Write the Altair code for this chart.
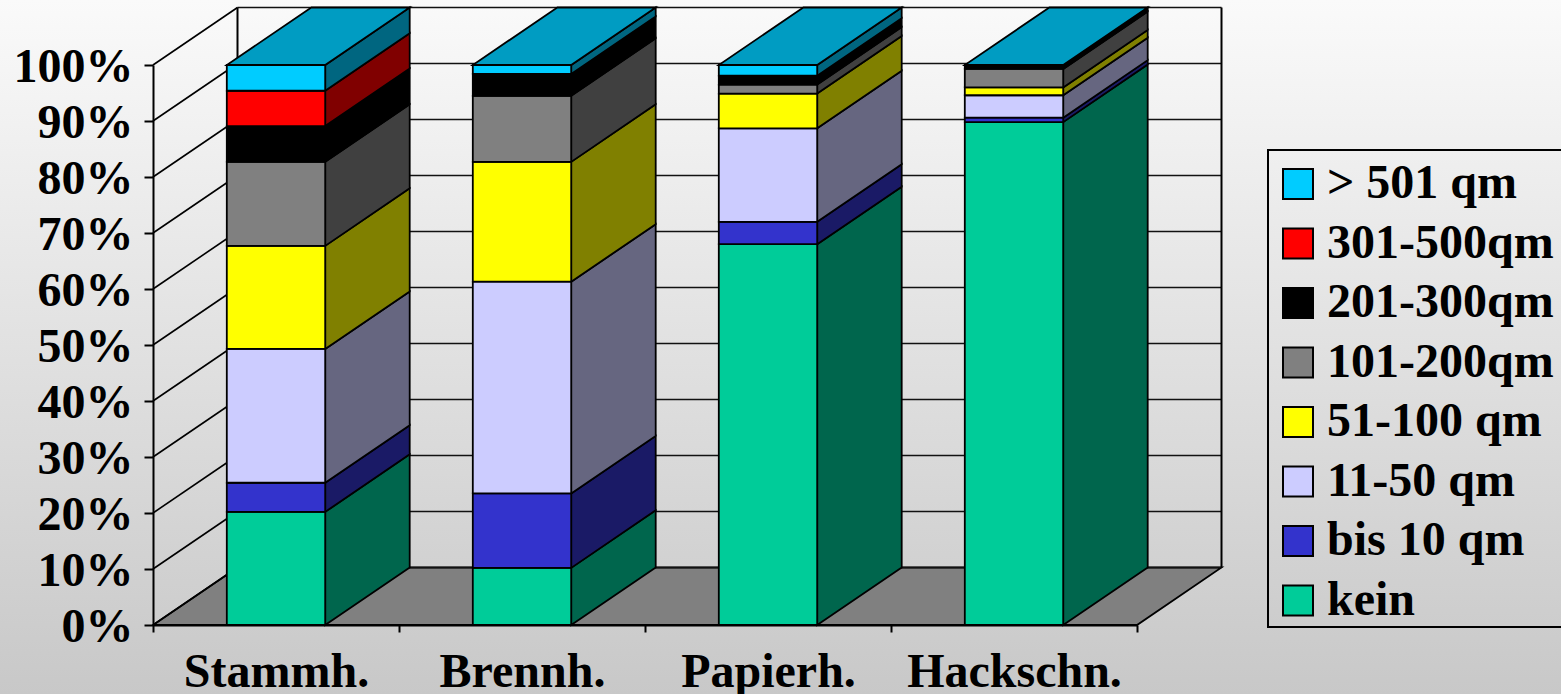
import altair as alt
import pandas as pd

# Share of each size class per wood assortment, in percent of the stack.
assortments = ["Stammh.", "Brennh.", "Papierh.", "Hackschn."]
classes = ["kein", "bis 10 qm", "11-50 qm", "51-100 qm", "101-200qm",
           "201-300qm", "301-500qm", "> 501 qm"]
stammh = [20.2, 5.2, 23.9, 18.4, 15.0, 6.4, 6.3, 4.6]
brennh = [10.2, 13.3, 37.8, 21.4, 11.8, 3.9, 0.0, 1.6]
papierh = [68.0, 4.0, 16.7, 6.2, 1.6, 1.6, 0.0, 1.9]
hackschn = [89.8, 0.8, 4.0, 1.4, 3.3, 0.7, 0.0, 0.0]
shares = [stammh, brennh, papierh, hackschn]

front_colors = ["#00CC99", "#3333CC", "#CCCCFF", "#FFFF00", "#808080",
                "#000000", "#FF0000", "#00CCFF"]
side_colors = ["#00664D", "#1A1A66", "#666680", "#808000", "#404040",
               "#000000", "#800000", "#006680"]
top_color = "#009CC2"
floor_color = "#808080"

# Oblique projection of the depth axis, in data units.
depth_x = 0.3435
depth_y = 10.27
bar_start = 0.30
bar_width = 0.40
percent_ticks = list(range(0, 101, 10))

PLOT_W, PLOT_H = 984, 560
FONT = "Liberation Serif"
EDGE = 1.8

front, side, top = [], [], []
for i, (name, row) in enumerate(zip(assortments, shares)):
    left, right = i + bar_start, i + bar_start + bar_width
    base = 0.0
    for j, (cls, value) in enumerate(zip(classes, row)):
        end = base + value
        front.append({"x": left, "x2": right, "y": base, "y2": end, "cls": cls})
        for k in (0.0, depth_x):
            side.append({"x": right + k, "y": base + k / depth_x * depth_y,
                         "y2": end + k / depth_x * depth_y,
                         "face": f"{i}-{j}", "shade": side_colors[j]})
        base = end
    for k in (0.0, depth_x):
        top.append({"y": base + k / depth_x * depth_y, "x": left + k,
                    "x2": right + k, "bar": name})

label_map = {i + 0.5: n for i, n in enumerate(assortments)}
label_expr = ("{" + ",".join(f"'{k}':'{v}'" for k, v in label_map.items())
              + "}[toString(datum.value)] || ''")

x_scale = alt.Scale(domain=[0, 4], nice=False, zero=False)
y_scale = alt.Scale(domain=[0, 100], nice=False, zero=False)
x_axis = alt.Axis(
    values=[v / 2 for v in range(0, 9)], labelExpr=label_expr, grid=False,
    zindex=1, labelOverlap=False, labelFlush=False, labelLimit=400,
    domainColor="black", domainWidth=2, tickColor="black", tickWidth=2, tickSize=7,
    tickOpacity={"condition": {"test": "datum.value % 1 === 0", "value": 1}, "value": 0},
    labelFont=FONT, labelFontWeight="bold", labelFontSize=48, labelColor="black",
    labelPadding=16, labelBaseline="top")
y_axis = alt.Axis(
    values=percent_ticks, labelExpr="datum.value + '%'", grid=False, zindex=1,
    domainColor="black", domainWidth=2, tickColor="black", tickWidth=2, tickSize=9,
    labelFont=FONT, labelFontWeight="bold", labelFontSize=48, labelColor="black",
    labelPadding=11, labelOffset=2)
X = alt.X("x:Q", scale=x_scale, title=None, axis=x_axis)
Y = alt.Y("y:Q", scale=y_scale, title=None, axis=y_axis)

# Page background
backdrop = alt.Chart(pd.DataFrame({"a": [0]})).mark_rect(
    color=alt.LinearGradient(
        gradient="linear", x1=0, y1=0, x2=0, y2=1,
        stops=[alt.GradientStop(offset=0, color="#FAFAFA"),
               alt.GradientStop(offset=1, color="#C8C8C8")])
).encode(x=alt.value(-153), x2=alt.value(1561 - 153),
         y=alt.value(-65), y2=alt.value(694 - 65))

# Frame around the legend, running off the right edge of the page
legend_frame = alt.Chart(pd.DataFrame({"a": [0]})).mark_rect(
    fillOpacity=0, stroke="black", strokeWidth=2
).encode(x=alt.value(1268 - 153), x2=alt.value(1600 - 153),
         y=alt.value(150 - 65), y2=alt.value(627 - 65))

# Floor of the chart box
floor = alt.Chart(pd.DataFrame({
    "y": [0.0, depth_y], "x": [0.0, depth_x], "x2": [4.0, 4 + depth_x]
})).mark_area(orient="horizontal", fill=floor_color, stroke="black", strokeWidth=EDGE).encode(
    x=X, x2="x2:Q", y=Y)

# Back wall: horizontal grid and the two upright edges
back_grid = alt.Chart(pd.DataFrame({
    "y": [p + depth_y for p in percent_ticks],
    "x": [depth_x] * len(percent_ticks),
    "x2": [4 + depth_x] * len(percent_ticks),
})).mark_rule(color="#111111", strokeWidth=1.6).encode(x=X, x2="x2:Q", y=Y)

back_edges = alt.Chart(pd.DataFrame({
    "x": [depth_x, 4 + depth_x], "y": [depth_y] * 2, "y2": [100 + depth_y] * 2,
})).mark_rule(color="black", strokeWidth=2).encode(x=X, y=Y, y2="y2:Q")

# Side wall: one slanted line per tick
slants = pd.DataFrame(
    [{"x": k, "y": p + k / depth_x * depth_y, "tick": p}
     for p in percent_ticks for k in (0.0, depth_x)])
side_grid = alt.Chart(slants).mark_line(color="black", strokeWidth=1.6).encode(
    x=X, y=Y, detail="tick:N")

# Bars: side faces, top faces, then front faces carrying the legend
side_faces = alt.Chart(pd.DataFrame(side)).mark_area(stroke="black", strokeWidth=EDGE).encode(
    x=X, y=Y, y2="y2:Q", detail="face:N",
    fill=alt.Fill("shade:N", scale=None))

top_faces = alt.Chart(pd.DataFrame(top)).mark_area(
    orient="horizontal", fill=top_color, stroke="black", strokeWidth=EDGE
).encode(x=X, x2="x2:Q", y=Y, detail="bar:N")

front_faces = alt.Chart(pd.DataFrame(front)).mark_rect(stroke="black", strokeWidth=EDGE).encode(
    x=X, x2="x2:Q", y=Y, y2="y2:Q",
    color=alt.Color(
        "cls:N",
        scale=alt.Scale(domain=classes[::-1], range=front_colors[::-1]),
        legend=alt.Legend(
            title=None, orient="none", legendX=1113, legendY=87, padding=8,
            symbolType="square", symbolSize=900, symbolStrokeColor="black",
            symbolStrokeWidth=2, symbolOpacity=1,
            labelFont=FONT, labelFontWeight="bold", labelFontSize=48,
            labelColor="black", labelLimit=400, labelOffset=5,
            rowPadding=11.5, values=classes[::-1]),
    ))

chart = alt.layer(
    backdrop, legend_frame, floor, back_grid, back_edges, side_grid,
    side_faces, top_faces, front_faces
).properties(
    width=PLOT_W, height=PLOT_H,
    padding={"left": 153, "top": 65, "right": 424, "bottom": 69},
    autosize=alt.AutoSizeParams(type="none"),
).configure_view(stroke=None)

chart.save("out.html", embed_options={"renderer": "svg", "actions": False})
